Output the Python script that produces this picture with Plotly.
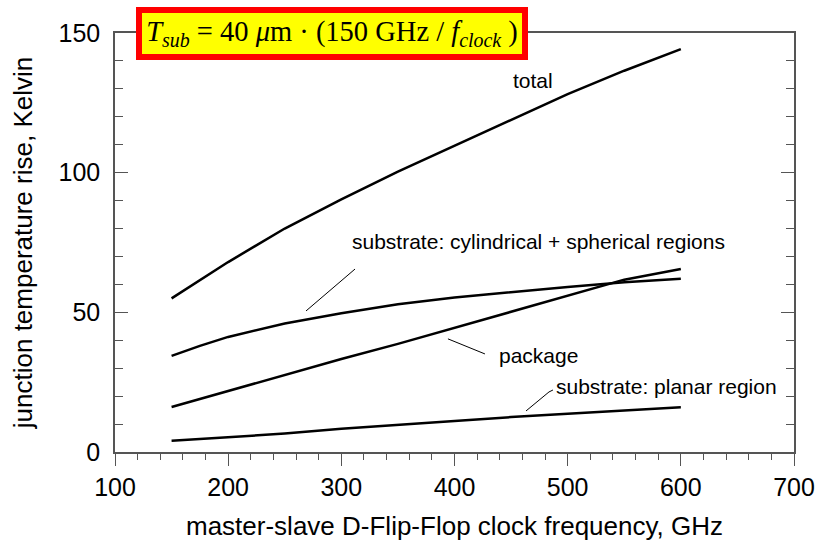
import plotly.graph_objects as go

freq = [150, 175, 200, 250, 300, 350, 400, 450, 500, 550, 600]
total = [55.0, 61.5, 68.0, 80.0, 90.4, 100.4, 109.6, 119.0, 128.1, 136.5, 144.2]
cyl_sph = [34.4, 38.0, 41.2, 46.0, 49.7, 52.9, 55.3, 57.3, 59.1, 60.8, 62.0]
package = [16.1, 19.0, 21.8, 27.6, 33.3, 38.7, 44.5, 50.2, 56.0, 61.7, 65.5]
planar = [4.0, 4.7, 5.4, 6.6, 8.3, 9.6, 11.1, 12.5, 13.7, 14.9, 16.0]

x_ticks = [100, 200, 300, 400, 500, 600, 700]
y_ticks = [0, 50, 100, 150]

fig = go.Figure()
for ys in [total, cyl_sph, package, planar]:
    fig.add_trace(go.Scatter(x=freq, y=ys, mode="lines",
                             line=dict(color="black", width=2.5),
                             showlegend=False, hoverinfo="skip"))

SANS = "Liberation Sans, Arial, sans-serif"
SERIF = "Liberation Serif, Times New Roman, serif"

labels = [
    ("total", 469, 133),
    ("substrate: cylindrical + spherical regions", 474.1, 75.5),
    ("package", 473.8, 34.7),
    ("substrate: planar region", 587.3, 23.3),
]
for txt, x, y in labels:
    fig.add_annotation(x=x, y=y, text=txt, showarrow=False,
                       font=dict(family=SANS, size=21, color="black"),
                       xanchor="center", yanchor="middle")

leaders = [
    ((312.1, 65.5), (268.8, 50.5)),
    ((394.2, 40.5), (426.9, 35.1)),
    ((463.2, 14.7), (483.5, 21.5)),
    ((483.5, 21.5), (487.0, 22.2)),
]
for (x0, y0), (x1, y1) in leaders:
    fig.add_shape(type="line", x0=x0, y0=y0, x1=x1, y1=y1,
                  line=dict(color="black", width=1))

formula = ("<i>T</i><sub><i>sub</i></sub> = 40 <i>μ</i>m · (150 GHz / "
           "<i>f</i><sub><i>clock</i></sub> )")
fig.add_annotation(xref="paper", yref="paper", x=0.3203, y=1.0,
                   xanchor="center", yanchor="middle",
                   text=formula, showarrow=False,
                   font=dict(family=SERIF, size=28.5, color="black"),
                   bgcolor="#ffff00", bordercolor="#ff0000", borderwidth=6,
                   borderpad=0, width=380, height=41)

axis_col = "#555555"
fig.update_xaxes(range=[100, 700], tickvals=x_ticks, ticks="outside",
                 ticklen=12, tickwidth=1, tickcolor=axis_col,
                 minor=dict(dtick=20, ticks="outside", ticklen=6,
                            tickcolor=axis_col, tickwidth=1),
                 showline=True, linecolor=axis_col, linewidth=1.5, mirror=True,
                 showgrid=False, zeroline=False, automargin=False,
                 tickfont=dict(family=SANS, size=25, color="black"),
                 title=dict(text="master-slave D-Flip-Flop clock frequency, GHz",
                            font=dict(family=SANS, size=26, color="black"),
                            standoff=18))
fig.update_yaxes(range=[0, 150], tickvals=y_ticks, ticks="inside",
                 ticklen=13, tickwidth=1, tickcolor=axis_col,
                 minor=dict(dtick=10, ticks="inside", ticklen=8,
                            tickcolor=axis_col, tickwidth=1),
                 showline=True, linecolor=axis_col, linewidth=1.5, mirror="ticks",
                 showgrid=False, zeroline=False, automargin=False,
                 tickfont=dict(family=SANS, size=25, color="black"),
                 ticklabelstandoff=8,
                 title=dict(text="junction temperature rise, Kelvin",
                            font=dict(family=SANS, size=26, color="black"),
                            standoff=18))

fig.update_layout(width=815, height=541,
                  margin=dict(l=115, r=21, t=33, b=89),
                  paper_bgcolor="white", plot_bgcolor="white")

fig.write_html("out.html")
